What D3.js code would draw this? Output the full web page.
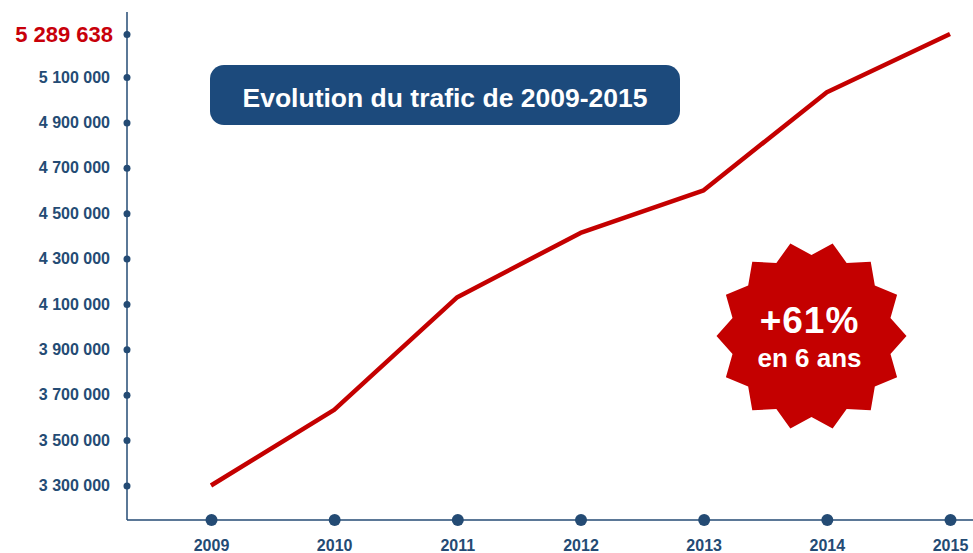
<!DOCTYPE html>
<html>
<head>
<meta charset="utf-8">
<script src="https://cdn.jsdelivr.net/npm/d3@7"></script>
<style>
  html, body { margin: 0; padding: 0; background: #ffffff; }
  svg { display: block; font-family: "Liberation Sans", Arial, Helvetica, sans-serif; }
</style>
</head>
<body>
<svg id="chart" width="973" height="553"></svg>
<script>
// ---- data ----
const years = ["2009", "2010", "2011", "2012", "2013", "2014", "2015"];
const traffic = [3300000, 3633000, 4130000, 4413000, 4601000, 5033000, 5289638];
const yTicks = [3300000, 3500000, 3700000, 3900000, 4100000, 4300000, 4500000, 4700000, 4900000, 5100000];
const yMaxTick = 5289638;
const titleText = "Evolution du trafic de 2009-2015";
const badgeLines = ["+61%", "en 6 ans"];

// ---- setup ----
const svg = d3.select("#chart");
const navy = "#244b74";
const red = "#c40000";

const axisX0 = 127, axisY0 = 520;

const x = d3.scalePoint().domain(years).range([211, 950]);
const y = d3.scaleLinear().domain([3300000, yMaxTick]).range([485.5, 34]);

const fmt = d3.formatLocale({ decimal: ",", thousands: " ", grouping: [3], currency: ["", " €"] }).format(",d");

// ---- axes lines ----
svg.append("line")
  .attr("x1", axisX0).attr("x2", axisX0)
  .attr("y1", 12).attr("y2", axisY0)
  .attr("stroke", navy).attr("stroke-width", 1.5);
svg.append("line")
  .attr("x1", axisX0).attr("x2", 973)
  .attr("y1", axisY0).attr("y2", axisY0)
  .attr("stroke", navy).attr("stroke-width", 1.5);

// ---- y axis via d3.axisLeft ----
const yAxis = d3.axisLeft(y)
  .tickValues(yTicks.concat([yMaxTick]))
  .tickSize(0)
  .tickPadding(17)
  .tickFormat(fmt);
const gy = svg.append("g").attr("transform", `translate(${axisX0},0)`).call(yAxis);
gy.select(".domain").remove();
gy.selectAll(".tick text")
  .attr("fill", d => d === yMaxTick ? "#c8000a" : navy)
  .attr("font-size", d => d === yMaxTick ? 22 : 16)
  .attr("font-weight", "bold")
  .attr("font-family", "'Liberation Sans', Arial, sans-serif")
  .attr("dx", d => d === yMaxTick ? 3 : 0);
gy.selectAll(".tick").append("circle")
  .attr("r", 3.5).attr("fill", navy);

// ---- x axis via d3.axisBottom ----
const xAxis = d3.axisBottom(x).tickSize(0).tickPadding(20);
const gx = svg.append("g").attr("transform", `translate(0,${axisY0})`).call(xAxis);
gx.select(".domain").remove();
gx.selectAll(".tick text")
  .attr("fill", navy)
  .attr("font-size", 16)
  .attr("font-weight", "bold")
  .attr("font-family", "'Liberation Sans', Arial, sans-serif");
gx.selectAll(".tick").append("circle")
  .attr("r", 6).attr("fill", navy);

// ---- line ----
const line = d3.line()
  .x((d, i) => x(years[i]))
  .y(d => y(d));
svg.append("path")
  .datum(traffic)
  .attr("d", line)
  .attr("fill", "none")
  .attr("stroke", red)
  .attr("stroke-width", 4.5)
  .attr("stroke-linejoin", "round")
  .attr("stroke-linecap", "butt");

// ---- title box ----
const tg = svg.append("g");
tg.append("rect")
  .attr("x", 210).attr("y", 65).attr("width", 470).attr("height", 60)
  .attr("rx", 14).attr("ry", 14)
  .attr("fill", "#1c4a7c");
tg.append("text")
  .attr("x", 445).attr("y", 107)
  .attr("text-anchor", "middle")
  .attr("fill", "#ffffff")
  .attr("font-size", 26.5)
  .attr("font-weight", "bold")
  .text(titleText);

// ---- starburst badge ----
const nPoints = 14;
const outerR = 95, innerR = 81;
const starPts = d3.range(nPoints * 2).map(i => [
  (Math.PI / nPoints) * (i + 1),
  i % 2 === 0 ? outerR : innerR
]);
const bg = svg.append("g").attr("transform", "translate(811.5,336)");
bg.append("path")
  .attr("d", d3.lineRadial().curve(d3.curveLinearClosed)(starPts))
  .attr("fill", red);
bg.append("text")
  .attr("x", -2).attr("y", -3)
  .attr("text-anchor", "middle")
  .attr("fill", "#ffffff")
  .attr("font-size", 37)
  .attr("font-weight", "bold")
  .attr("letter-spacing", 1)
  .text(badgeLines[0]);
bg.append("text")
  .attr("x", -2).attr("y", 31)
  .attr("text-anchor", "middle")
  .attr("fill", "#ffffff")
  .attr("font-size", 26)
  .attr("font-weight", "bold")
  .text(badgeLines[1]);
</script>
</body>
</html>
